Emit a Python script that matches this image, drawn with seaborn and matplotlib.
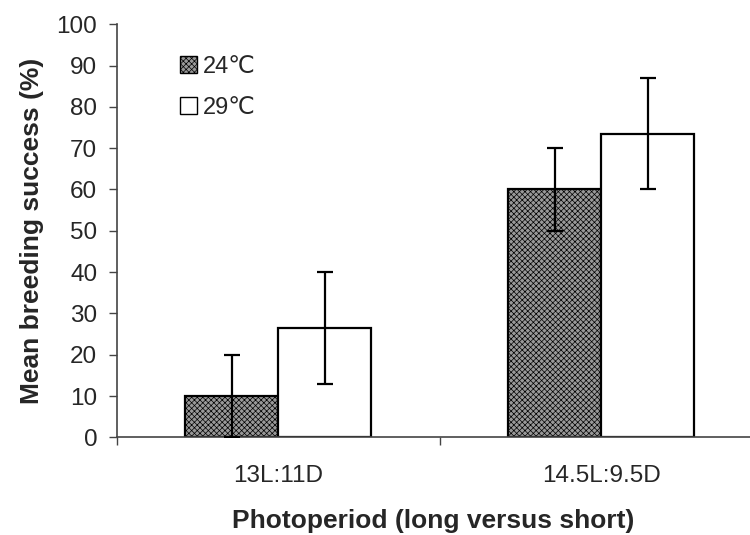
import pandas as pd
import matplotlib.pyplot as plt
import matplotlib.patches as mpatches
import seaborn as sns

# Breeding success by photoperiod and temperature
photoperiods = ["13L:11D", "14.5L:9.5D"]
temps = ["24\u2103", "29\u2103"]
success_24 = [10.0, 60.0]
success_29 = [26.5, 73.5]
err_24 = [10.0, 10.0]
err_29 = [13.5, 13.5]

df = pd.DataFrame({
    "photoperiod": photoperiods * 2,
    "temp": [temps[0]] * 2 + [temps[1]] * 2,
    "success": success_24 + success_29,
    "err": err_24 + err_29,
})

sns.set_style("white")
plt.rcParams["font.family"] = ["Liberation Sans", "DejaVu Sans"]
plt.rcParams["hatch.linewidth"] = 0.5

fig = plt.figure(figsize=(7.5, 5.35), dpi=100)
ax = fig.add_axes([0.1556, 0.1826, 0.8444, 0.772])

sns.barplot(data=df, x="photoperiod", y="success", hue="temp",
            order=photoperiods, hue_order=temps, errorbar=None,
            palette=["#999999", "white"], edgecolor="black", linewidth=1.6,
            width=0.575, dodge=True, legend=False, ax=ax)

# hatch the 24C bars and add error bars
for i, t in enumerate(temps):
    cont = ax.containers[i]
    sub = df[df["temp"] == t].set_index("photoperiod").loc[photoperiods]
    for bar in cont:
        if i == 0:
            bar.set_hatch("xxxxxx")
    xs = [b.get_x() + b.get_width() / 2 for b in cont]
    ax.errorbar(xs, sub["success"], yerr=sub["err"], fmt="none",
                ecolor="black", elinewidth=1.6, capsize=5.5, capthick=1.6, zorder=5)

ax.set_ylim(0, 100)
ax.set_yticks(range(0, 101, 10))
ax.set_xlim(-0.5, 1.46)
ax.set_xticks([0, 1])
ax.set_xticklabels(photoperiods)
ax.set_xticks([-0.5, 0.5], minor=True)
ax.tick_params(axis="x", which="major", length=0, pad=20, labelsize=17.5)
ax.tick_params(axis="x", which="minor", length=6, width=1, color="#444444", bottom=True)
ax.tick_params(axis="y", length=6, width=1, color="#444444", left=True, labelsize=17.5, pad=8)

for s in ["top", "right"]:
    ax.spines[s].set_visible(False)
for s in ["left", "bottom"]:
    ax.spines[s].set_color("#444444")
    ax.spines[s].set_linewidth(1.2)

ax.set_xlabel("Photoperiod (long versus short)", fontsize=19, fontweight="bold", labelpad=16)
ax.set_ylabel("Mean breeding success (%)", fontsize=19, fontweight="bold", labelpad=9)

handles = [mpatches.Patch(facecolor="#999999", edgecolor="black", hatch="xxxxxx", label=temps[0]),
           mpatches.Patch(facecolor="white", edgecolor="black", label=temps[1])]
ax.legend(handles=handles, loc="upper left", bbox_to_anchor=(0.085, 0.947),
          frameon=False, fontsize=17, handlelength=0.7, handleheight=0.7,
          handletextpad=0.25, labelspacing=0.8, borderaxespad=0)

plt.savefig("out.png", dpi=100)
